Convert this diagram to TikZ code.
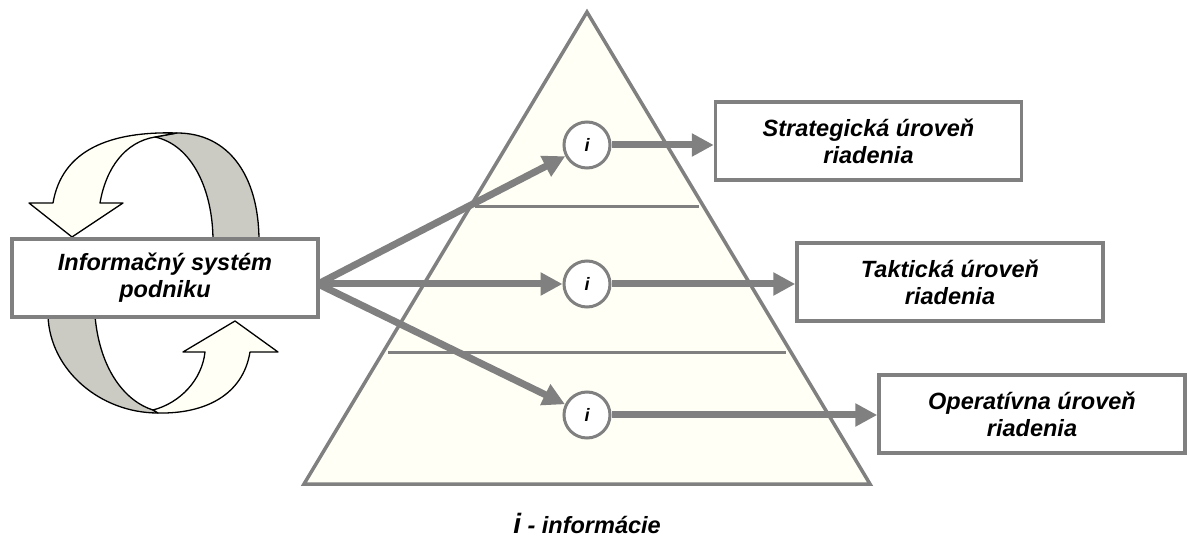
\documentclass[tikz,border=0pt]{standalone}
\usepackage{fontspec}
\setmainfont{Liberation Sans}
\usetikzlibrary{arrows.meta,calc}
\definecolor{edgegray}{HTML}{808080}
\definecolor{ivory}{HTML}{FFFFF5}
\definecolor{bandgray}{HTML}{CBCBC4}

\begin{document}
\begin{tikzpicture}[x=1pt,y=-1pt,
  lbl/.style={font=\fontsize{23.5}{27}\selectfont\bfseries\itshape, align=center},
  levelbox/.style={lbl, draw=edgegray, line width=3.5pt, fill=white,
    minimum width=306pt, minimum height=78pt, inner sep=0pt},
  infonode/.style={circle, draw=edgegray, line width=3pt, fill=white,
    minimum size=46pt, inner sep=0pt, font=\fontsize{18}{18}\selectfont\bfseries\itshape},
  flow/.style={draw=edgegray, line width=7pt, -{Triangle[length=22pt,width=22pt]}},
  band/.style={draw=black, line width=1.3pt, line join=round},
]
\useasboundingbox (0,0) rectangle (1187,545);

% pyramid of management levels
\coordinate (apex) at (587,12);
\coordinate (bl) at (304,484);
\coordinate (br) at (870,484);
\filldraw[fill=ivory, draw=edgegray, line width=3.5pt, line join=miter]
  (apex) -- (br) -- (bl) -- cycle;
\draw[edgegray, line width=3pt] (475,207) -- (699,207);
\draw[edgegray, line width=3pt] (388,353) -- (786,353);

% circular arrows around the information system
\filldraw[band, fill=bandgray]
  (155,137) .. controls (192,145) and (213,190) .. (213,241)
  -- (259,241) .. controls (259,175) and (228,133) .. (177,133) -- cycle;
\filldraw[band, fill=ivory]
  (100,203) .. controls (106,168) and (125,142) .. (155,137) -- (177,133)
  .. controls (110,131) and (62,150) .. (53,203)
  -- (29,203) -- (72,237) -- (123,203) -- cycle;
\filldraw[band, fill=bandgray]
  (48,316) -- (95,316) .. controls (100,372) and (127,402) .. (153,410)
  -- (158,413) .. controls (100,413) and (50,370) .. (48,316) -- cycle;
\filldraw[band, fill=ivory]
  (153,410) .. controls (180,403) and (202,380) .. (205,352)
  -- (183,352) -- (235,321) -- (278,352) -- (250,352)
  .. controls (243,395) and (205,414) .. (158,413) -- cycle;

% boxes
\node[levelbox] (is) at (165,278) {Informačný systém\\podniku};
\node[levelbox] (strat) at (868.5,141) {Strategická úroveň\\riadenia};
\node[levelbox] (takt) at (950,282) {Taktická úroveň\\riadenia};
\node[levelbox] (oper) at (1032,414) {Operatívna úroveň\\riadenia};

% information points
\node[infonode] (i1) at (587,145) {i};
\node[infonode] (i2) at (587,284) {i};
\node[infonode] (i3) at (587,415) {i};

% information flows
\coordinate (src) at (318,284);
\draw[flow] (src) -- (i1);
\draw[flow] (src) -- (i2);
\draw[flow] (src) -- (i3);
\draw[flow] (i1.east) -- (i1.east -| strat.west);
\draw[flow] (i2.east) -- (i2.east -| takt.west);
\draw[flow] (i3.east) -- (i3.east -| oper.west);

% legend
\node[lbl, anchor=base] (legend) at (587,533)
  {{\fontsize{28}{28}\selectfont i} - informácie};
\end{tikzpicture}
\end{document}
